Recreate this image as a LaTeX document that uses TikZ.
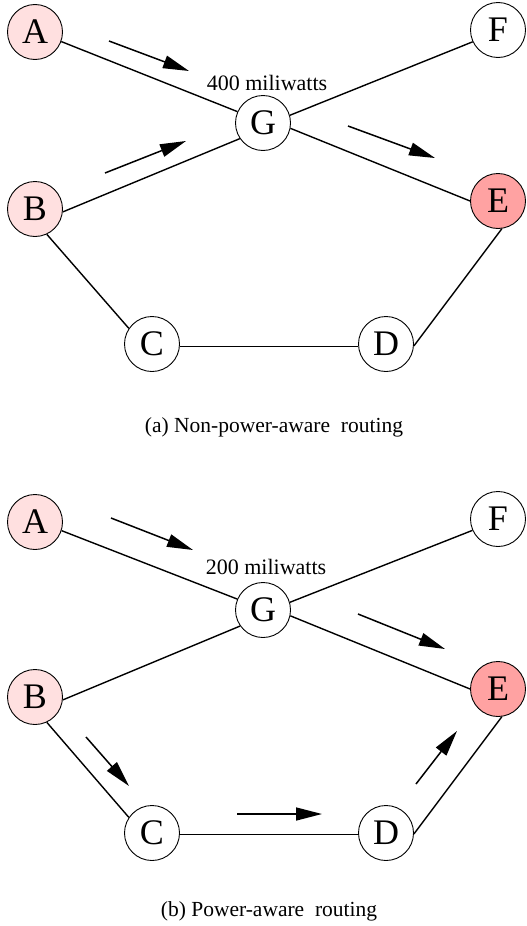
\documentclass[tikz,border=0pt]{standalone}
\usepackage{fontspec}
\setmainfont{Liberation Serif}
\usetikzlibrary{arrows.meta}
\definecolor{lightpink}{HTML}{FFE0E0}
\definecolor{darkpink}{HTML}{FFA2A2}
\tikzset{
  nd/.style={circle, draw=black, line width=0.9pt, fill=white, minimum size=55pt, inner sep=0pt, font=\fontsize{36}{36}\selectfont},
  src/.style={nd, fill=lightpink},
  dst/.style={nd, fill=darkpink},
  link/.style={line width=1.4pt},
  flow/.style={line width=1.5pt, -{Triangle[length=26pt,width=13pt]}},
  lbl/.style={font=\fontsize{22}{22}\selectfont, inner sep=0pt},
  captext/.style={font=\fontsize{21.5}{21.5}\selectfont, inner sep=0pt}
}
\begin{document}
\begin{tikzpicture}[x=1pt,y=-1pt]
\useasboundingbox (0,0) rectangle (527,926);
% ---------- panel (a)
\node[src] (A1) at (35,32) {A};
\node[nd] (F1) at (498,30) {F};
\node[nd] (G1) at (263,123) {G};
\node[src] (B1) at (35,209) {B};
\node[dst] (E1) at (498,201) {E};
\node[nd] (C1) at (152,344) {C};
\node[nd] (D1) at (386,344) {D};
\draw[link] (A1.-20) -- (G1.156);
\draw[link] (F1.205) -- (G1.16);
\draw[link] (B1.-6) -- (G1.214);
\draw[link] (G1.-11) -- (E1.180);
\draw[link] (B1.-65) -- (C1.146);
\draw[link] (C1.-5) -- (D1.185);
\draw[link] (D1.-4) -- (E1.-82);
\node[lbl] (P1) at (267,83) {400 miliwatts};
\coordinate (a1s) at (109,41); \coordinate (a1e) at (189,71);
\coordinate (a2s) at (105,173); \coordinate (a2e) at (186,141);
\coordinate (a3s) at (348,126); \coordinate (a3e) at (435,158);
\draw[flow] (a1s) -- (a1e);
\draw[flow] (a2s) -- (a2e);
\draw[flow] (a3s) -- (a3e);
\node[captext] (CA) at (274,427) {(a) Non-power-aware\ \ routing};
% ---------- panel (b)
\node[src] (A2) at (35,522) {A};
\node[nd] (F2) at (498,519) {F};
\node[nd] (G2) at (263,610) {G};
\node[src] (B2) at (35,697) {B};
\node[dst] (E2) at (498,689) {E};
\node[nd] (C2) at (152,833) {C};
\node[nd] (D2) at (386,833) {D};
\draw[link] (A2.-18) -- (G2.157);
\draw[link] (F2.204) -- (G2.16);
\draw[link] (B2.-6) -- (G2.215);
\draw[link] (G2.-12) -- (E2.180);
\draw[link] (B2.-65) -- (C2.146);
\draw[link] (C2.-3) -- (D2.183);
\draw[link] (D2.-2) -- (E2.-82);
\node[lbl] (P2) at (266,567) {200 miliwatts};
\coordinate (b1s) at (111,518); \coordinate (b1e) at (193,550);
\coordinate (b2s) at (358,614); \coordinate (b2e) at (445,649);
\coordinate (b3s) at (86,737); \coordinate (b3e) at (129,786);
\coordinate (b4s) at (237,814); \coordinate (b4e) at (322,814);
\coordinate (b5s) at (416,784); \coordinate (b5e) at (457,731);
\draw[flow] (b1s) -- (b1e);
\draw[flow] (b2s) -- (b2e);
\draw[flow] (b3s) -- (b3e);
\draw[flow] (b4s) -- (b4e);
\draw[flow] (b5s) -- (b5e);
\node[captext] (CB) at (269,911) {(b) Power-aware\ \ routing};
\end{tikzpicture}
\end{document}
